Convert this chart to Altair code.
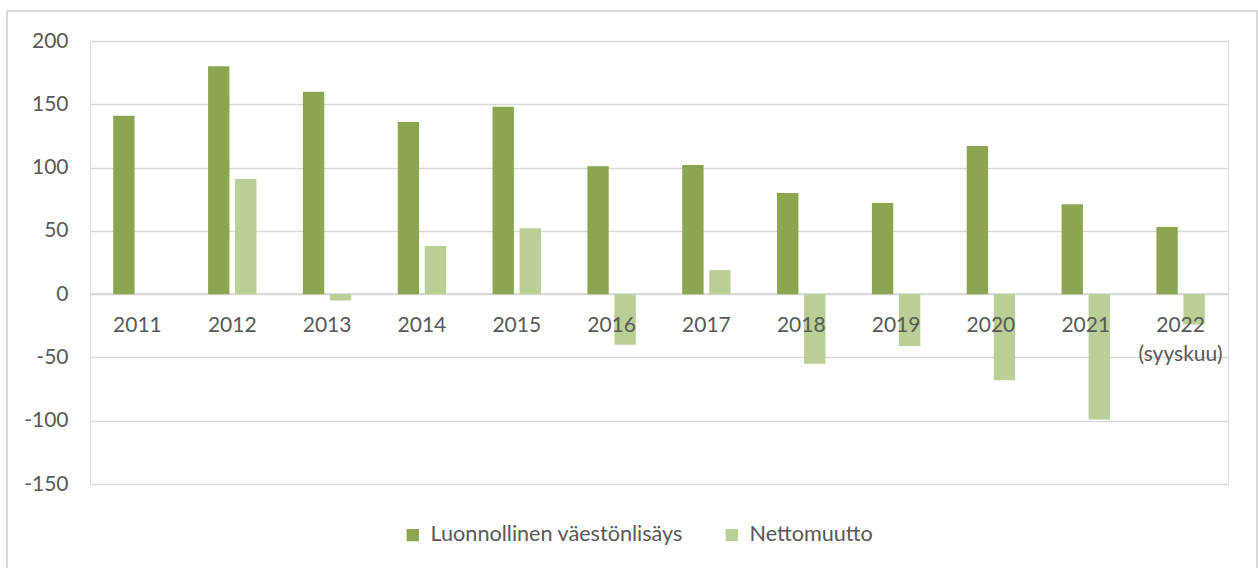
import altair as alt
import pandas as pd

years = ["2011", "2012", "2013", "2014", "2015", "2016", "2017", "2018",
         "2019", "2020", "2021", "2022"]
year_labels = ["2011", "2012", "2013", "2014", "2015", "2016", "2017", "2018",
               "2019", "2020", "2021", "2022\n(syyskuu)"]
series_names = ["Luonnollinen väestönlisäys", "Nettomuutto"]
natural = [141, 180, 160, 136, 148, 101, 102, 80, 72, 117, 71, 53]
net_migration = [None, 91, -5, 38, 52, -40, 19, -55, -41, -68, -99, -24]
y_ticks = [-150, -100, -50, 0, 50, 100, 150, 200]

rows = []
for i, y in enumerate(years):
    rows.append({"Vuosi": y, "Sarja": series_names[0], "Arvo": natural[i]})
    if net_migration[i] is not None:
        rows.append({"Vuosi": y, "Sarja": series_names[1], "Arvo": net_migration[i]})
df = pd.DataFrame(rows)
labels_df = pd.DataFrame({"Vuosi": years, "label": year_labels})

FONT = "Lato"
TXT = "#595959"
GRID = "#D9D9D9"
FS = 21

x_enc = alt.X("Vuosi:N", sort=years, axis=None,
              scale=alt.Scale(paddingInner=0.49, paddingOuter=0.245))

bars = alt.Chart(df).mark_bar().encode(
    x=x_enc,
    xOffset=alt.XOffset("Sarja:N", sort=series_names,
                        scale=alt.Scale(paddingInner=0.21, paddingOuter=0)),
    y=alt.Y("Arvo:Q",
            scale=alt.Scale(domain=[-150, 200], nice=False, zero=False),
            axis=alt.Axis(values=y_ticks, title=None, domain=False, ticks=False,
                          grid=True, gridColor=GRID, gridWidth=1.3,
                          labelExpr="toString(datum.value)",
                          labelFont=FONT, labelFontSize=FS, labelColor=TXT,
                          labelPadding=22)),
    color=alt.Color("Sarja:N", sort=series_names,
                    scale=alt.Scale(domain=series_names, range=["#8BA64F", "#B9CF96"]),
                    legend=alt.Legend(title=None, orient="none", direction="horizontal",
                                      legendX=312, legendY=483,
                                      symbolType="square", symbolSize=150,
                                      symbolStrokeWidth=0, labelLimit=400,
                                      labelFont=FONT, labelFontSize=21.6, labelColor=TXT,
                                      labelOffset=7, columnPadding=38)),
)

zero_line = alt.Chart(labels_df).mark_rule(color=GRID, strokeWidth=1.3).encode(
    y=alt.datum(0), x=alt.value(0), x2=alt.value(1138)
)

cat_labels = alt.Chart(labels_df).mark_text(
    font=FONT, fontSize=FS, color=TXT, baseline="alphabetic", align="center",
    dy=38, lineBreak="\n", lineHeight=29
).encode(
    x=x_enc,
    y=alt.datum(0),
    text="label:N",
)

border = alt.Chart(labels_df).mark_rect(
    fill=None, fillOpacity=0, stroke=GRID, strokeWidth=1.5
).encode(
    x=alt.value(-83), x2=alt.value(1167), y=alt.value(-30), y2=alt.value(540)
)

chart = alt.layer(border, zero_line, bars, cat_labels).properties(
    width=1138, height=443,
    autosize=alt.AutoSizeParams(type="none"),
    padding={"left": 90, "top": 41, "right": 30, "bottom": 84},
).configure_view(stroke=None).configure(background="white")

chart.save("out.html", embed_options={"renderer": "svg", "actions": False})
